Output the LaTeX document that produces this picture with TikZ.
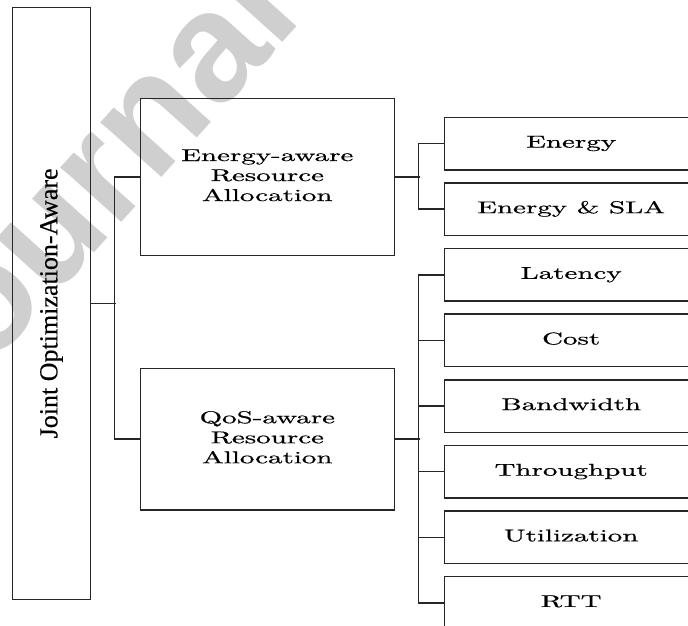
\documentclass[tikz,border=0pt]{standalone}
\usepackage{fontspec}
\usepackage{graphicx}
\newfontfamily\vtfont{Liberation Serif}[FakeBold=0.4]
\newfontfamily\htfont{Latin Modern Roman}[FakeBold=0.5]
\newfontfamily\wmfont{Liberation Sans}
% wide text: set at 10pt, then stretched; several centred lines allowed
\newcommand{\widetxt}[1]{\scalebox{2.9}[1.71]{\htfont\fontsize{10}{11.7}\selectfont\begin{tabular}{@{}c@{}}#1\end{tabular}}}
\begin{document}
\begin{tikzpicture}[x=1pt,y=-1pt,
  box/.style={draw=black!85,line width=1.5pt,rectangle,inner sep=0pt},
  leaf/.style={box,minimum width=253.7pt,minimum height=52.5pt},
  mid/.style={box,minimum width=254pt},
  conn/.style={draw=black!85,line width=1.5pt},
  mark text/.style={text=black!19,font=\wmfont\bfseries\fontsize{155}{155}\selectfont}]
\useasboundingbox (0,0) rectangle (688,625);
\clip (0,0) rectangle (688,625);

% background imprint
\node[mark text,rotate=48,anchor=base west,inner sep=0pt] (imprint) at (-70,435) {Journal Pre-proof};

% root column
\node[box,minimum width=78.4pt,minimum height=591.8pt] (root) at (51.5,303.4)
  {\rotatebox{90}{\vtfont\fontsize{26}{26}\selectfont Joint Optimization-Aware}};

% second level
\node[mid,minimum height=157.4pt] (ea) at (267.3,177)
  {\widetxt{Energy-aware\\Resource\\Allocation}};
\node[mid,minimum height=141.7pt] (qa) at (267.3,439.2)
  {\widetxt{QoS-aware\\Resource\\Allocation}};

% leaves
\foreach \i/\t in {1/Energy,2/Energy \& SLA,3/Latency,4/Cost,5/Bandwidth,6/Throughput,7/Utilization,8/RTT}{
  \node[leaf] (l\i) at (571.15,{143.55+65.63*(\i-1)}) {\widetxt{\t}};
}

% connectors
\draw[conn] (root.east) -- ++(24.6,0);
\draw[conn] (ea.west) -- ++(-25,0) |- (qa.west);
\draw[conn] (ea.east) -- ++(25,0);
\draw[conn] (l1.west) -- ++(-25,0) |- (l2.west);
\draw[conn] (qa.east) -- ++(25,0);
\draw[conn] (l3.west) -- ++(-25,0) |- (l8.west);
\foreach \i in {4,5,6,7}{
  \draw[conn] (l\i.west) -- ++(-25,0);
}
\end{tikzpicture}
\end{document}
